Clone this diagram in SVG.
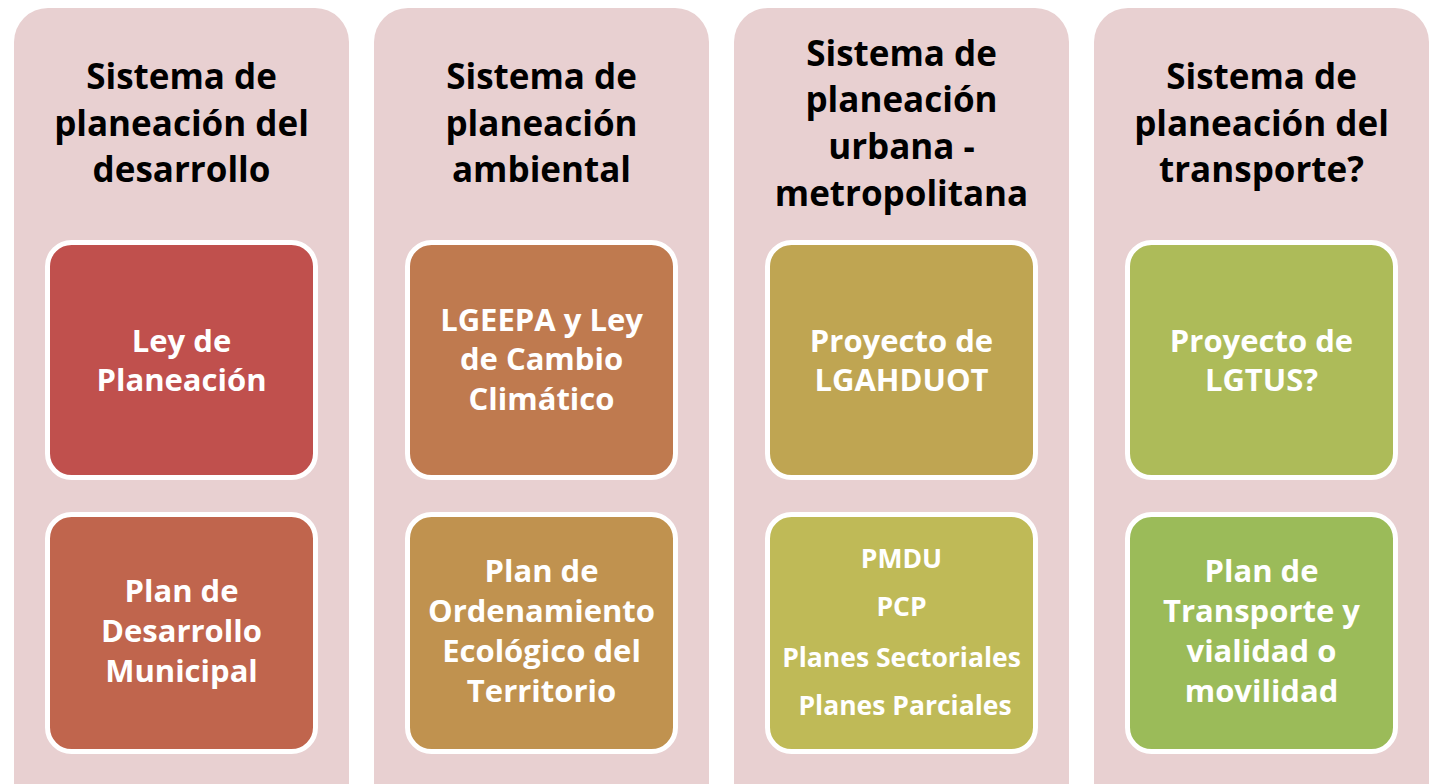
<svg xmlns="http://www.w3.org/2000/svg" width="1435" height="784" viewBox="0 0 1435 784">
<style>
.col{fill:#e8d0d1}
.box{stroke:#ffffff;stroke-width:5}
.t{font-family:"Open Sans","Noto Sans","Liberation Sans",sans-serif;font-weight:bold;text-anchor:middle}
.title{font-size:35px;fill:#000000}
.lbl{font-size:31px;fill:#ffffff}
</style>
<rect width="1435" height="784" fill="#ffffff"/>
<g id="col1">
<rect class="col" x="14" y="8" width="335" height="820" rx="34"/>
<text class="t title"><tspan x="181.5" y="89">Sistema de</tspan><tspan x="181.5" y="136">planeación del</tspan><tspan x="181.5" y="182">desarrollo</tspan></text>
</g>
<g id="col2">
<rect class="col" x="374" y="8" width="335" height="820" rx="34"/>
<text class="t title"><tspan x="541.5" y="89">Sistema de</tspan><tspan x="541.5" y="136">planeación</tspan><tspan x="541.5" y="182">ambiental</tspan></text>
</g>
<g id="col3">
<rect class="col" x="734" y="8" width="335" height="820" rx="34"/>
<text class="t title"><tspan x="901.5" y="66">Sistema de</tspan><tspan x="901.5" y="112">planeación</tspan><tspan x="901.5" y="159">urbana -</tspan><tspan x="901.5" y="206">metropolitana</tspan></text>
</g>
<g id="col4">
<rect class="col" x="1094" y="8" width="335" height="820" rx="34"/>
<text class="t title"><tspan x="1261.5" y="89">Sistema de</tspan><tspan x="1261.5" y="136">planeación del</tspan><tspan x="1261.5" y="182">transporte?</tspan></text>
</g>
<g id="ley-planeacion">
<rect class="box" x="47.5" y="242.5" width="268" height="235" rx="24" fill="#c0504d"/>
<text class="t lbl"><tspan x="181.5" y="352">Ley de</tspan><tspan x="181.5" y="391">Planeación</tspan></text>
</g>
<g id="plan-desarrollo">
<rect class="box" x="47.5" y="514.5" width="268" height="237" rx="24" fill="#c0654d"/>
<text class="t lbl"><tspan x="181.5" y="602">Plan de</tspan><tspan x="181.5" y="642">Desarrollo</tspan><tspan x="181.5" y="682">Municipal</tspan></text>
</g>
<g id="lgeepa">
<rect class="box" x="407.5" y="242.5" width="268" height="235" rx="24" fill="#bf7a4f"/>
<text class="t lbl"><tspan x="541.5" y="331">LGEEPA y Ley</tspan><tspan x="541.5" y="370">de Cambio</tspan><tspan x="541.5" y="410">Climático</tspan></text>
</g>
<g id="poet">
<rect class="box" x="407.5" y="514.5" width="268" height="237" rx="24" fill="#c0924f"/>
<text class="t lbl"><tspan x="541.5" y="582">Plan de</tspan><tspan x="541.5" y="622">Ordenamiento</tspan><tspan x="541.5" y="662">Ecológico del</tspan><tspan x="541.5" y="702">Territorio</tspan></text>
</g>
<g id="lgahduot">
<rect class="box" x="767.5" y="242.5" width="268" height="235" rx="24" fill="#bfa552"/>
<text class="t lbl"><tspan x="901.5" y="352">Proyecto de</tspan><tspan x="901.5" y="391">LGAHDUOT</tspan></text>
</g>
<g id="planes-urbanos">
<rect class="box" x="767.5" y="514.5" width="268" height="237" rx="24" fill="#bfba57"/>
<text class="t lbl" style="font-size:26.5px"><tspan x="901.5" y="568">PMDU</tspan><tspan x="901.5" y="616">PCP</tspan><tspan x="901.5" y="667">Planes Sectoriales</tspan><tspan x="905" y="715">Planes Parciales</tspan></text>
</g>
<g id="lgtus">
<rect class="box" x="1127.5" y="242.5" width="268" height="235" rx="24" fill="#adbb59"/>
<text class="t lbl"><tspan x="1261.5" y="352">Proyecto de</tspan><tspan x="1261.5" y="391">LGTUS?</tspan></text>
</g>
<g id="plan-transporte">
<rect class="box" x="1127.5" y="514.5" width="268" height="237" rx="24" fill="#9bbb59"/>
<text class="t lbl"><tspan x="1261.5" y="582">Plan de</tspan><tspan x="1261.5" y="622">Transporte y</tspan><tspan x="1261.5" y="662">vialidad o</tspan><tspan x="1261.5" y="702">movilidad</tspan></text>
</g>
<g id="connectors"></g>
</svg>
